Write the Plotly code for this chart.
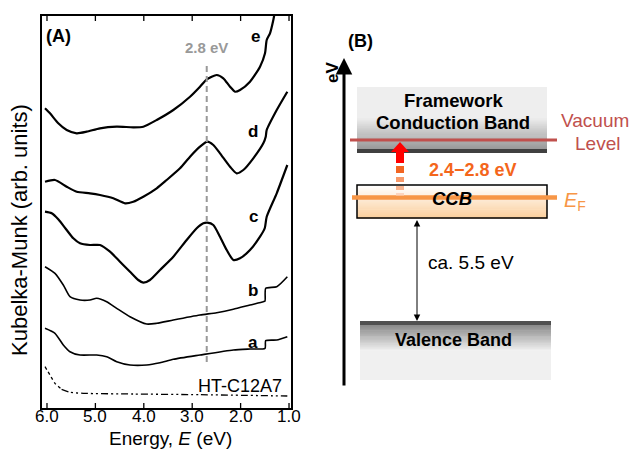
import plotly.graph_objects as go

# ---------------- data (panel A) ----------------
E_e = [6.041, 5.938, 5.767, 5.593, 5.386, 5.180, 4.905, 4.560, 4.217, 4.010, 3.733, 3.390, 3.045, 2.839,
       2.700, 2.494, 2.357, 2.219, 2.116, 2.012, 1.806, 1.599, 1.496, 1.461, 1.393, 1.324, 1.269]
KM_e = [299.7, 294.7, 284.7, 278.0, 274.7, 276.3, 279.7, 281.3, 280.7, 281.3, 288.0, 298.0, 311.3, 321.3,
        328.7, 333.0, 329.7, 321.3, 316.3, 318.0, 326.3, 341.3, 354.7, 368.0, 374.7, 388.0, 403.0]

E_d = [6.041, 5.835, 5.593, 5.386, 5.112, 4.905, 4.630, 4.388, 4.217, 4.010, 3.733, 3.527, 3.252, 3.045,
       2.839, 2.688, 2.564, 2.426, 2.219, 2.081, 1.944, 1.738, 1.531, 1.481, 1.461, 1.254, 1.035]
KM_d = [226.3, 228.0, 221.3, 216.3, 214.7, 213.0, 209.7, 204.7, 206.3, 211.3, 219.7, 228.0, 239.7, 251.3,
        261.3, 266.3, 263.0, 254.7, 241.3, 234.7, 238.0, 249.7, 264.7, 271.3, 278.0, 298.0, 316.3]

E_c = [6.041, 5.903, 5.767, 5.593, 5.456, 5.318, 5.112, 4.905, 4.698, 4.492, 4.285, 4.114, 4.010, 3.872,
       3.665, 3.390, 3.114, 2.907, 2.770, 2.688, 2.564, 2.426, 2.287, 2.150, 2.012, 1.806, 1.599, 1.500,
       1.461, 1.254, 1.035]
KM_c = [196.3, 194.7, 188.7, 178.0, 169.7, 164.7, 163.0, 163.0, 156.3, 146.3, 136.3, 128.0, 125.3, 128.0,
        138.0, 151.3, 168.0, 179.7, 184.7, 185.3, 183.0, 171.3, 158.0, 148.0, 149.7, 158.0, 171.3, 180.0,
        191.3, 214.7, 243.0]

E_b = [6.041, 5.835, 5.663, 5.525, 5.318, 5.112, 4.973, 4.767, 4.560, 4.285, 3.940, 3.733, 3.390, 2.839,
       2.494, 2.150, 1.806, 1.531, 1.496, 1.481, 1.254, 1.035]
KM_b = [141.3, 134.7, 123.0, 111.3, 108.0, 108.0, 109.7, 106.3, 99.7, 91.3, 84.0, 84.7, 88.0, 93.0,
        95.3, 98.7, 103.0, 106.3, 107.0, 119.7, 121.3, 131.3]

E_a = [6.041, 5.835, 5.663, 5.525, 5.318, 4.973, 4.767, 4.560, 4.285, 3.940, 3.665, 3.390, 2.839, 2.150,
       1.806, 1.496, 1.481, 1.254, 1.035]
KM_a = [79.7, 74.7, 63.0, 56.3, 53.0, 53.0, 51.3, 46.3, 43.0, 43.0, 45.3, 48.7, 53.0, 58.0,
        59.0, 59.7, 67.3, 68.0, 71.3]

E_ht_dot = [6.041, 5.938, 5.835, 5.698]
KM_ht_dot = [41.3, 33.0, 24.7, 18.7]
E_ht = [5.698, 5.525, 5.249, 4.217, 2.839, 1.035]
KM_ht = [18.7, 15.7, 14.7, 14.0, 13.3, 12.0]

peak_E = [2.7, 2.7]
peak_KM = [46, 343]

tick_vals = [6.0, 5.0, 4.0, 3.0, 2.0, 1.0]
tick_text = ["6.0", "5.0", "4.0", "3.0", "2.0", "1.0"]

curve_labels = ["e", "d", "c", "b", "a"]
label_E = [1.70, 1.74, 1.74, 1.74, 1.74]
label_KM = [371, 276, 191, 118, 66]

FONT = "Liberation Sans, Arial, sans-serif"
W, H = 632, 453

fig = go.Figure()

def curve(x, y, width, dash="solid", smooth=True):
    fig.add_trace(go.Scatter(
        x=x, y=y, mode="lines", xaxis="x", yaxis="y",
        line=dict(color="black", width=width, dash=dash,
                  shape="spline" if smooth else "linear", smoothing=0.6),
        showlegend=False, hoverinfo="skip"))

curve(E_e, KM_e, 2.2)
curve(E_d, KM_d, 2.2)
curve(E_c, KM_c, 2.2)
curve(E_b, KM_b, 1.6)
curve(E_a, KM_a, 1.6)
curve(E_ht_dot, KM_ht_dot, 1.3, dash="dot")
curve(E_ht, KM_ht, 1.3, dash="7px,3px,2px,3px,2px,3px")

fig.add_trace(go.Scatter(x=peak_E, y=peak_KM, mode="lines", xaxis="x", yaxis="y",
                         line=dict(color="#999999", width=2, dash="6px,4px"),
                         showlegend=False, hoverinfo="skip"))

# dummy trace for pixel overlay axes
fig.add_trace(go.Scatter(x=[None], y=[None], xaxis="x2", yaxis="y2", mode="markers",
                         showlegend=False, hoverinfo="skip"))

ann = []
shapes = []

# inward tick marks on bottom and top of panel A, and tick labels placed at the tick values
TL = 5 / 392
for tv, tt in zip(tick_vals, tick_text):
    for (a0, a1) in [(0, TL), (1 - TL, 1)]:
        shapes.append(dict(type="line", xref="x", yref="y domain", x0=tv, x1=tv, y0=a0, y1=a1,
                           line=dict(color="black", width=1.3), layer="above"))
    ann.append(dict(x=tv, y=416, xref="x", yref="y2", text=tt, showarrow=False,
                    font=dict(family=FONT, size=17, color="black")))

for t, xe, yk in zip(curve_labels, label_E, label_KM):
    ann.append(dict(x=xe, y=yk, xref="x", yref="y", text=f"<b>{t}</b>", showarrow=False,
                    font=dict(family=FONT, size=17, color="black")))
ann.append(dict(x=1.10, y=22, xref="x", yref="y", text="HT-C12A7", showarrow=False, xanchor="right",
                font=dict(family=FONT, size=18, color="black")))
ann.append(dict(x=2.7, y=360, xref="x", yref="y", text="<b>2.8 eV</b>", showarrow=False,
                font=dict(family=FONT, size=15, color="#999999")))

def px(x, y, text, size, color="black", **kw):
    d = dict(x=x, y=y, xref="x2", yref="y2", text=text, showarrow=False,
             font=dict(family=FONT, size=size, color=color))
    d.update(kw)
    ann.append(d)

px(44, 36, "<b>(A)</b>", 18, xanchor="left")
px(19, 230, "Kubelka-Munk (arb. units)", 22, textangle=-90)
px(170, 438, "Energy, <i>E</i> (eV)", 19)

# ---------------- panel B ----------------
def hexrgb(c):
    c = c.lstrip("#")
    return [int(c[i:i + 2], 16) for i in (0, 2, 4)]

def rect(x0, x1, y0, y1, fill):
    shapes.append(dict(type="rect", xref="x2", yref="y2", x0=x0, x1=x1, y0=y0, y1=y1,
                       fillcolor=fill, line=dict(width=0), layer="above"))

def grad(x0, x1, y0, y1, c0, c1, n=30):
    a, b = hexrgb(c0), hexrgb(c1)
    h = (y1 - y0) / n
    for i in range(n):
        t = i / (n - 1)
        col = "rgb(%d,%d,%d)" % tuple(round(a[k] + (b[k] - a[k]) * t) for k in range(3))
        shapes.append(dict(type="rect", xref="x2", yref="y2", x0=x0, x1=x1,
                           y0=y0 + i * h, y1=y0 + (i + 1) * h + 0.6,
                           fillcolor=col, line=dict(width=0), layer="above"))

# framework conduction band
rect(357, 547, 87, 117, "#eeeeee")
grad(357, 547, 117, 149, "#eeeeee", "#9a9a9a")
rect(357, 547, 149, 153, "#404040")
# vacuum level
shapes.append(dict(type="line", xref="x2", yref="y2", x0=350, x1=557, y0=140, y1=140,
                   line=dict(color="#c0504d", width=3), layer="above"))
# CCB box
grad(357, 547, 185, 218, "#ffffff", "#fbcf9e")
shapes.append(dict(type="rect", xref="x2", yref="y2", x0=357, x1=547, y0=185, y1=218,
                   line=dict(color="black", width=1.5), fillcolor="rgba(0,0,0,0)", layer="above"))
# Fermi level
shapes.append(dict(type="line", xref="x2", yref="y2", x0=352, x1=557, y0=197.5, y1=197.5,
                   line=dict(color="#f79646", width=4.5), layer="above"))
# valence band
rect(360, 551, 321, 325, "#505050")
grad(360, 551, 325, 351, "#8a8a8a", "#f0f0f0")
rect(360, 551, 351, 380, "#f0f0f0")

# red arrow and fading dashes
shapes.append(dict(type="path", xref="x2", yref="y2",
                   path="M 396,163 L 396,152 L 391,152 L 400,142 L 409,152 L 404,152 L 404,163 Z",
                   fillcolor="#ff0000", line=dict(width=0), layer="above"))
for (y0, y1, col) in [(166, 173, "#f26522"), (177, 182, "#f7996a"), (186, 190, "#f9b590"), (193, 195.5, "#fcd5bf")]:
    rect(396, 404, y0, y1, col)

# vertical energy axis arrow
ann.append(dict(x=344, y=58, ax=344, ay=387, xref="x2", yref="y2", axref="x2", ayref="y2",
                text="", showarrow=True, arrowhead=2, arrowsize=1.1, arrowwidth=3, arrowcolor="black"))
# double arrow gap
ann.append(dict(x=417, y=321, ax=417, ay=218.5, xref="x2", yref="y2", axref="x2", ayref="y2",
                text="", showarrow=True, arrowhead=2, startarrowhead=2, arrowside="end+start",
                arrowsize=1.3, startarrowsize=1.3, arrowwidth=1, arrowcolor="black"))

px(360, 41, "<b>(B)</b>", 18)
px(332, 73, "<b>eV</b>", 17, textangle=-90)
px(453, 100, "<b>Framework</b>", 18.5)
px(453, 122, "<b>Conduction Band</b>", 18.5)
px(595, 120, "Vacuum", 19, color="#c0504d")
px(597, 143, "Level", 19, color="#c0504d")
px(473, 170, "<b>2.4\u22122.8 eV</b>", 18, color="#f4661b")
px(452, 198, "<b><i>CCB</i></b>", 18.5)
px(562, 201, "<i>E</i><sub>F</sub>", 20, color="#f79646", xanchor="left")
px(471, 262, "ca. 5.5 eV", 19)
px(453, 340, "<b>Valence Band</b>", 18)

fig.update_layout(
    width=W, height=H, autosize=False,
    margin=dict(l=0, r=0, t=0, b=0, pad=0),
    paper_bgcolor="white", plot_bgcolor="rgba(0,0,0,0)",
    showlegend=False,
    font=dict(family=FONT, color="black"),
    xaxis=dict(domain=[42 / W, 291 / W], range=[6.103, 0.959], anchor="y", automargin=False,
               tickvals=tick_vals, showticklabels=False, ticks="",
               mirror=True, showline=True, linecolor="black", linewidth=1.5,
               showgrid=False, zeroline=False),
    yaxis=dict(domain=[1 - 408 / H, 1 - 16 / H], range=[0, 392], anchor="x", automargin=False,
               showticklabels=False, ticks="", mirror=True, showline=True, linecolor="black",
               linewidth=1.5, showgrid=False, zeroline=False),
    xaxis2=dict(domain=[0, 1], range=[0, W], anchor="y2", automargin=False, showgrid=False,
                zeroline=False, showticklabels=False, ticks="", showline=False, fixedrange=True),
    yaxis2=dict(domain=[0, 1], range=[H, 0], anchor="x2", automargin=False, showgrid=False,
                zeroline=False, showticklabels=False, ticks="", showline=False, fixedrange=True),
    annotations=ann,
    shapes=shapes,
)

fig.write_html("out.html")
